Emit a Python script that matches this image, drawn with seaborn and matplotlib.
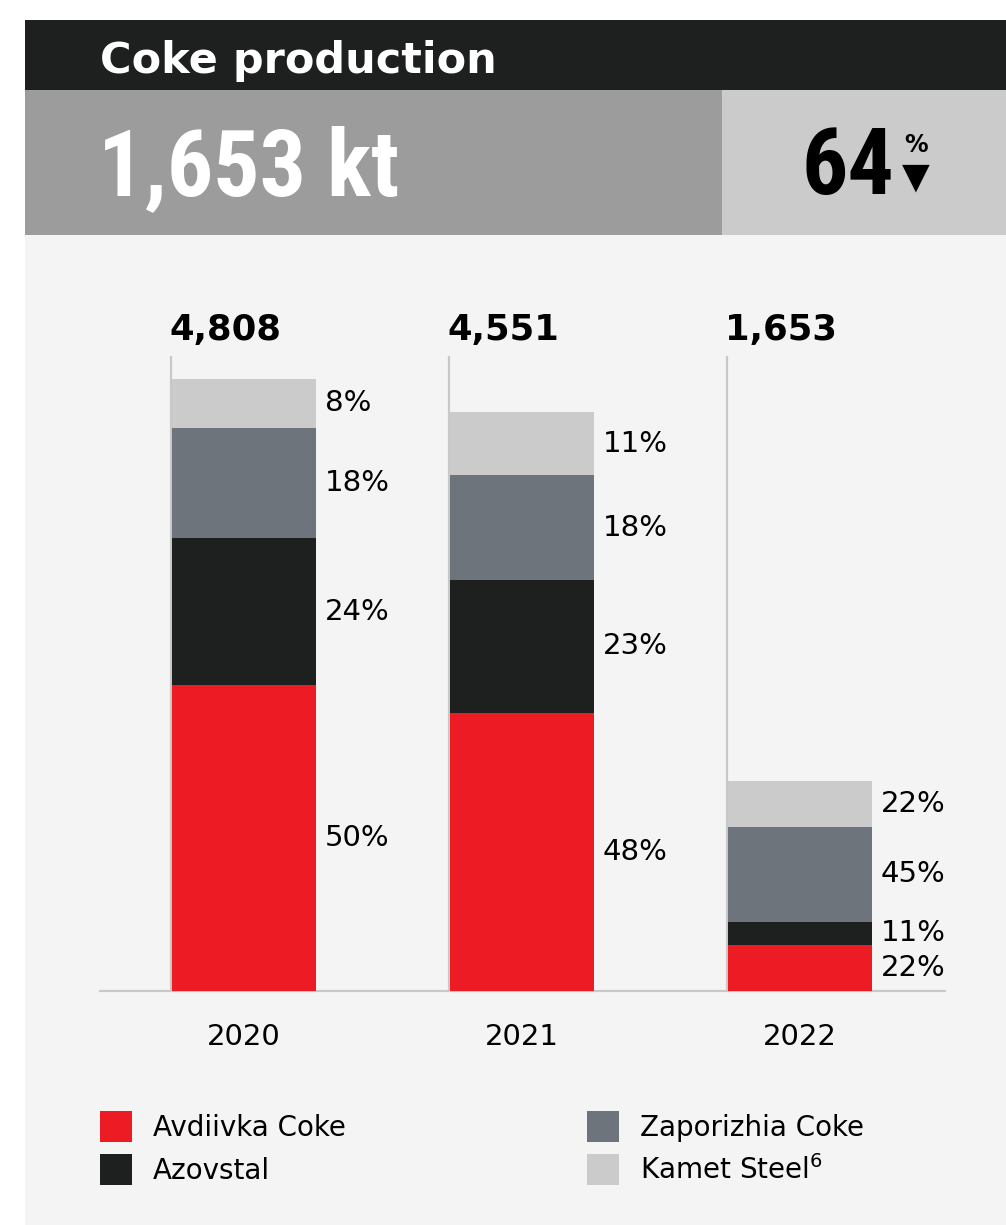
import numpy as np
import pandas as pd
import seaborn as sns
import matplotlib
matplotlib.use("Agg")
from matplotlib import pyplot as plt
from matplotlib import transforms
from matplotlib.patches import Rectangle, Patch

sns.set_theme(style="white")
plt.rcParams['font.family'] = ['DejaVu Sans']
plt.rcParams['text.color'] = 'black'
# ------------------------------------
years = ["2020", "2021", "2022"]
totals = [4808, 4551, 1653]
companies = ["Avdiivka Coke", "Azovstal", "Zaporizhia Coke", "Kamet Steel"]
legend_labels = ["Avdiivka Coke", "Azovstal", "Zaporizhia Coke", "Kamet Steel$^6$"]
share_avdiivka = [50, 48, 22]
share_azovstal = [24, 23, 11]
share_zaporizhia = [18, 18, 45]
share_kamet = [8, 11, 22]
colors = ["#ED1C24", "#1E1F1F", "#6D747B", "#CBCBCB"]
title = "Coke production"
headline = "1,653 kt"
change = "64"
# ------------------------------------
shares = [share_avdiivka, share_azovstal, share_zaporizhia, share_kamet]
rows = []
for ic in range(len(companies)):
    for iy in range(len(years)):
        rows.append([years[iy], companies[ic], shares[ic][iy], totals[iy] * shares[ic][iy] / 100.0])
df = pd.DataFrame(rows, columns=["year", "company", "share", "kt"])
df["top"] = df.groupby("year")["kt"].cumsum()
df["mid"] = df["top"] - df["kt"] / 2.0

W, H = 1006, 1225
fh = plt.figure(figsize=(W / 100, H / 100), dpi=100)
fh.patch.set_facecolor("white")

def box(x0, y0, x1, y1, c):
    fh.add_artist(Rectangle((x0 / W, 1 - y1 / H), (x1 - x0) / W, (y1 - y0) / H,
                            transform=fh.transFigure, facecolor=c, edgecolor="none", zorder=0))

box(25, 235, 1006, 1225, "#F4F4F4")
box(25, 20, 1006, 90, "#1E1F1F")
box(25, 90, 722, 235, "#9B9C9B")
box(722, 90, 1006, 235, "#CBCBCB")

# header texts
bigfont = ["Roboto Condensed", "Roboto", "DejaVu Sans"]
fh.text(100 / W, 1 - 73 / H, title, color="white", fontsize=31, fontweight="bold", va="baseline")
fh.text(98 / W, 1 - 195 / H, headline, color="white", fontsize=66, fontweight="bold", va="baseline",
        family=bigfont)
fh.text(801 / W, 1 - 194 / H, change, color="black", fontsize=66, fontweight="bold", va="baseline",
        family=bigfont)
fh.text(916 / W, 1 - 145 / H, "%", color="black", fontsize=17, fontweight="bold", va="center", ha="center")
fh.text(916 / W, 1 - 178 / H, "\u25BC", color="black", fontsize=26, va="center", ha="center")

# chart axes
ax_l, ax_r, ax_b, ax_t = 100, 945, 991, 300
ah = fh.add_axes([ax_l / W, 1 - ax_b / H, (ax_r - ax_l) / W, (ax_b - ax_t) / H])
ah.set_facecolor("none")
bw = 144 / 278
for ic in reversed(range(len(companies))):
    sub = df[df["company"] == companies[ic]]
    sns.barplot(data=sub, x="year", y="top", order=years, color=colors[ic], saturation=1,
                width=bw, errorbar=None, edgecolor="none", linewidth=0, ax=ah, zorder=3)
ah.set_xlim(-144 / 278, 2 + 145 / 278)
ymax = (ax_b - ax_t) / (612 / 4808)
ah.set_ylim(0, ymax)

# thin guide lines at bar left edges
xs = np.arange(len(years))
ah.vlines(xs - bw / 2 - 0.004, 0, ymax * (991 - 356) / (ax_b - ax_t), color="#C8C8C8", lw=1.6, zorder=2)

# percentage labels
for _, r in df.iterrows():
    ix = years.index(r["year"])
    ah.text(ix + bw / 2 + 0.032, r["mid"], "%d%%" % r["share"], fontsize=21, color="black",
            va="center", ha="left")
# totals
trans = transforms.blended_transform_factory(ah.transData, ah.transAxes)
for ix in range(len(years)):
    ah.text(ix - bw / 2 - 0.01, (991 - 330) / (ax_b - ax_t), "{:,}".format(totals[ix]), transform=trans,
            fontsize=25.5, fontweight="bold", color="black", va="center", ha="left")

for s in ["top", "right", "left"]:
    ah.spines[s].set_visible(False)
ah.spines["bottom"].set_color("#C8C8C8")
ah.spines["bottom"].set_linewidth(1.6)
ah.set_yticks([])
ah.set_xlabel("")
ah.set_ylabel("")
ah.tick_params(axis="x", length=0, pad=23, labelsize=21, colors="black")

# legend
handles = [Patch(facecolor=colors[i], edgecolor="none") for i in range(len(companies))]
fh.legend(handles, legend_labels, loc="upper left", bbox_to_anchor=(100 / W, 1 - 1111 / H), ncol=2,
          frameon=False, fontsize=20, handlelength=1.15, handleheight=1.36, handletextpad=0.75,
          columnspacing=8.7, labelspacing=0.41, borderpad=0, borderaxespad=0, labelcolor="black")

fh.savefig("out.png", dpi=100)
